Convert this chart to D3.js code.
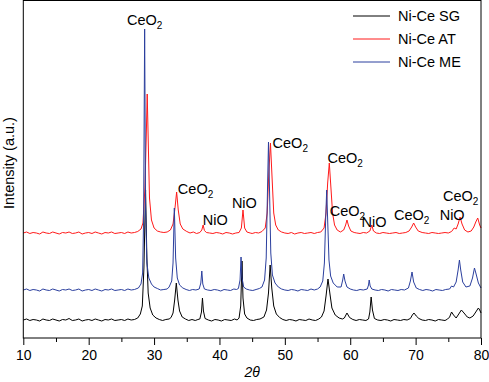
<!DOCTYPE html>
<html>
<head>
<meta charset="utf-8">
<script src="https://cdn.jsdelivr.net/npm/d3@7"></script>
<style>
  body { margin: 0; background: #fff; }
  svg { display: block; }
</style>
</head>
<body>
<div id="graph"></div>
<script>
const w = 489;
const h = 382;
const plotLeft = 23.3;
const plotRight = 481;
const plotTop = 0.5;
const plotBottom = 338;

// x ticks
const majorTicks = [10, 20, 30, 40, 50, 60, 70, 80];
const minorTicks = [15, 25, 35, 45, 55, 65, 75];

// series: [2theta, intensity (a.u.)]
const seriesNames = ['Ni-Ce SG', 'Ni-Ce AT', 'Ni-Ce ME'];
const seriesColors = ['#000000', '#ff1a1a', '#2b3f9e'];

const sgData = [
  [10,18],[10.5,19],[11,17.5],[11.5,18.5],[12,18],[12.5,17],[13,19],[13.5,18],[14,17.5],[14.5,19],
  [15,18],[15.5,17],[16,18.5],[16.5,18],[17,19.5],[17.5,17.5],[18,18],[18.5,19],[19,17],[19.5,18],
  [20,18.5],[20.5,17.5],[21,19],[21.5,18],[22,17],[22.5,18.5],[23,18],[23.5,19],[24,17.5],[24.5,18],
  [25,18.5],[25.5,17.5],[26,19],[26.5,18],[27,18.5],[27.5,20],[27.9,24],[28.2,32],[28.45,70],[28.7,148],
  [28.9,80],[29.1,45],[29.4,30],[29.8,23],[30.3,20],[30.8,18.5],[31.3,17.5],[31.8,18.5],[32.3,19],[32.6,20.5],
  [32.9,25],[33.15,38],[33.4,55],[33.65,38],[33.9,27],[34.3,21],[34.8,19],[35.3,17.5],[35.8,18.5],[36.3,17.5],
  [36.7,18.5],[37.0,19],[37.25,26],[37.4,40],[37.55,27],[37.8,19.5],[38.3,18],[38.8,17],[39.3,18.5],[39.8,18],
  [40.3,17],[40.8,18.5],[41.3,18],[41.8,17.5],[42.3,19],[42.7,18],[43.0,20],[43.25,32],[43.45,77],[43.6,40],
  [43.85,24],[44.2,20],[44.7,18],[45.2,17.5],[45.7,18.5],[46.2,19],[46.8,21],[47.2,28],[47.5,45],[47.75,73],
  [48.0,50],[48.3,32],[48.7,24],[49.2,20.5],[49.7,18.5],[50.2,17.5],[50.7,18.5],[51.2,18],[51.7,17],[52.2,18.5],
  [52.7,18],[53.2,17.5],[53.7,19],[54.2,18],[54.7,17.5],[55.2,19],[55.6,21],[56.0,27],[56.3,42],[56.6,59],
  [56.9,44],[57.2,30],[57.7,23],[58.3,20],[58.8,19],[59.1,20],[59.5,25],[59.9,20.5],[60.4,18.5],[60.9,17.5],
  [61.4,18.5],[61.9,18],[62.4,17.5],[62.8,19],[63.0,26],[63.2,41],[63.4,28],[63.7,19.5],[64.2,18],[64.7,17.5],
  [65.2,18.5],[65.7,18],[66.2,17],[66.7,18.5],[67.2,18],[67.7,17.5],[68.2,18.5],[68.7,18],[69.2,19.5],[69.5,23],
  [69.75,25],[70.1,22],[70.5,19.5],[71,18],[71.5,17.5],[72,18.5],[72.5,18],[73,17],[73.5,18.5],[74,18],
  [74.5,17.5],[74.9,19],[75.2,21],[75.5,26],[75.8,23],[76.2,20],[76.6,24],[77.0,28],[77.4,25],[77.9,21],
  [78.3,20],[78.8,22],[79.2,26],[79.6,30],[79.8,28],[80,25]
];

const atData = [
  [10,105],[10.5,106],[11,104.5],[11.5,105.5],[12,105],[12.5,104],[13,106],[13.5,105],[14,104.5],[14.5,106],
  [15,105],[15.5,104],[16,105.5],[16.5,105],[17,106],[17.5,104.5],[18,105],[18.5,106],[19,104],[19.5,105],
  [20,105.5],[20.5,104.5],[21,106],[21.5,105],[22,104],[22.5,105.5],[23,105],[23.5,106],[24,104.5],[24.5,105],
  [25,105.5],[25.5,104.5],[26,106],[26.5,105],[27,105.5],[27.5,106.5],[28,109],[28.3,115],[28.6,150],[28.8,200],
  [28.95,244],[29.1,200],[29.3,140],[29.6,118],[30,110],[30.5,107],[31,106],[31.5,105.5],[32,106],[32.5,108],
  [32.9,114],[33.2,130],[33.45,146],[33.7,128],[34,114],[34.4,109],[35,106.5],[35.5,105],[36,106],[36.5,104.5],
  [37,105.5],[37.3,108],[37.5,113],[37.7,107.5],[38,105.5],[38.5,105],[39,104.5],[39.5,105.5],[40,105],[40.5,104],
  [41,105.5],[41.5,105],[42,104],[42.5,105],[43,105.5],[43.35,110],[43.6,128],[43.85,110],[44.2,106],[44.7,105],
  [45,104.5],[45.5,105.5],[46,105],[46.5,106.5],[47,110],[47.3,125],[47.55,165],[47.8,195],[48.05,160],[48.3,125],
  [48.6,113],[49,108],[49.5,106],[50,105],[50.5,104.5],[51,105.5],[51.5,104],[52,105],[52.5,105.5],[53,104.5],
  [53.5,105],[54,105.5],[54.5,104.5],[55,105.5],[55.5,106],[56,110],[56.3,125],[56.55,155],[56.8,175],[57.05,150],
  [57.3,125],[57.6,113],[58,108],[58.5,106],[59,108],[59.3,113],[59.5,118],[59.75,112],[60.1,107],[60.6,105.5],
  [61,105],[61.5,104.5],[62,105.5],[62.5,105],[63,107],[63.3,113],[63.55,107],[64,105],[64.5,104.5],[65,105.5],
  [65.5,105],[66,104.5],[66.5,105],[67,105.5],[67.5,104.5],[68,105],[68.5,105.5],[69,107],[69.4,111],[69.7,115],
  [70,111],[70.4,107],[71,105.5],[71.5,105],[72,104.5],[72.5,105.5],[73,105],[73.5,104.5],[74,105],[74.5,105.5],
  [75,105],[75.5,106.5],[75.9,110],[76.2,109],[76.5,114],[76.8,121],[77.1,114],[77.5,108],[78,106],[78.5,107],
  [78.9,111],[79.2,116],[79.5,120],[79.8,113],[80,110]
];

const meData = [
  [10,48],[10.5,49],[11,47.5],[11.5,48.5],[12,48],[12.5,47],[13,49],[13.5,48],[14,47.5],[14.5,49],
  [15,48],[15.5,47],[16,48.5],[16.5,48],[17,49],[17.5,47.5],[18,48],[18.5,49],[19,47],[19.5,48],
  [20,48.5],[20.5,47.5],[21,49],[21.5,48],[22,47],[22.5,48.5],[23,48],[23.5,49],[24,47.5],[24.5,48],
  [25,48.5],[25.5,47.5],[26,49],[26.5,48],[27,48.5],[27.6,50],[28,54],[28.25,65],[28.4,120],[28.56,309],
  [28.7,130],[28.9,75],[29.2,60],[29.6,54],[30,51],[30.5,49.5],[31,48],[31.5,48.5],[32,49],[32.3,51],
  [32.7,57],[32.9,75],[33.1,130],[33.3,80],[33.55,60],[33.9,53],[34.4,50],[34.9,48.5],[35.4,47.5],[35.9,48.5],
  [36.4,48],[36.9,49],[37.15,55],[37.3,67],[37.45,54],[37.7,49],[38.2,48],[38.7,47.5],[39.2,48.5],[39.7,48],
  [40.2,47],[40.7,48.5],[41.2,48],[41.7,47.5],[42.2,49],[42.6,48.5],[42.9,49.5],[43.15,58],[43.3,81],[43.45,60],
  [43.7,51],[44.1,49],[44.6,48],[45.1,47.5],[45.6,48.5],[46.1,49.5],[46.5,51],[46.9,58],[47.15,80],[47.35,150],
  [47.5,196],[47.65,150],[47.85,85],[48.1,63],[48.5,55],[49,51],[49.5,49],[50,48],[50.5,47.5],[51,48.5],
  [51.5,48],[52,47],[52.5,48.5],[53,48],[53.5,47.5],[54,49],[54.5,48],[55,49],[55.4,51],[55.8,57],
  [56.05,75],[56.25,120],[56.4,148],[56.55,118],[56.75,78],[57,62],[57.4,55],[58,51],[58.6,51],[58.85,58],
  [59.0,64],[59.2,57],[59.5,51],[60,49],[60.5,48],[61,47.5],[61.5,48.5],[62,48],[62.6,49],[62.8,53],
  [62.9,58],[63.05,52],[63.3,49],[63.8,48],[64.3,47.5],[64.8,48.5],[65.3,48],[65.8,47],[66.3,48.5],[66.8,48],
  [67.3,47.5],[67.8,48.5],[68.3,48],[68.9,50],[69.2,57],[69.45,66],[69.7,56],[70.1,50],[70.6,48.5],[71.1,47.5],
  [71.6,48.5],[72.1,48],[72.6,47],[73.1,48.5],[73.6,48],[74.1,47.5],[74.6,48.5],[75.2,49],[75.5,52],[75.8,51],
  [76.2,56],[76.5,68],[76.7,78],[76.9,68],[77.2,56],[77.7,51],[78.3,52],[78.7,60],[79.0,70],[79.25,64],
  [79.6,55],[80,50]
];

// peak labels: [2theta, intensity, phase]
const peakLabels = [
  [25.85, 313, 'CeO2'],
  [33.64, 144, 'CeO2'],
  [37.46, 113, 'NiO'],
  [41.9, 130, 'NiO'],
  [48.12, 190, 'CeO2'],
  [56.52, 175, 'CeO2'],
  [56.87, 122, 'CeO2'],
  [61.72, 111, 'NiO'],
  [66.70, 118, 'CeO2'],
  [73.68, 118, 'NiO'],
  [74.19, 137, 'CeO2']
];

const xScale = d3.scaleLinear()
                 .domain([10, 80])
                 .range([plotLeft, plotRight]);

const yScale = d3.scaleLinear()
                 .domain([0, plotBottom])
                 .range([plotBottom, 0]);

const svg = d3.select('#graph')
              .append('svg')
              .attr('width', w)
              .attr('height', h)
              .style('font-family', '"Liberation Sans", Arial, sans-serif');

const line = d3.line()
               .x((d) => xScale(d[0]))
               .y((d) => yScale(d[1]));

// draw in back-to-front order: SG, AT, ME
[[sgData, 0], [atData, 1], [meData, 2]].forEach(function (s) {
  svg.append('path')
     .datum(s[0])
     .attr('fill', 'none')
     .attr('stroke', seriesColors[s[1]])
     .attr('stroke-width', 1)
     .attr('stroke-linejoin', 'round')
     .attr('d', line);
});

// frame
svg.append('rect')
   .attr('x', plotLeft)
   .attr('y', plotTop)
   .attr('width', plotRight - plotLeft)
   .attr('height', plotBottom - plotTop)
   .attr('fill', 'none')
   .attr('stroke', '#000')
   .attr('stroke-width', 1);

// axis
const xAxis = svg.append('g')
   .attr('transform', 'translate(0,' + plotBottom + ')')
   .call(d3.axisBottom(xScale).tickValues(majorTicks).tickSize(7).tickFormat(d3.format('d')));
xAxis.select('.domain').remove();
xAxis.selectAll('text')
     .attr('dy', null)
     .attr('y', 22)
     .style('font-family', '"Liberation Sans", Arial, sans-serif')
     .style('font-size', '14px')
     .attr('fill', '#000');

svg.append('g')
   .attr('transform', 'translate(0,' + plotBottom + ')')
   .call(d3.axisBottom(xScale).tickValues(minorTicks).tickSize(4).tickFormat(''))
   .select('.domain').remove();

svg.append('text')
   .attr('x', xScale(45))
   .attr('y', 377)
   .attr('text-anchor', 'middle')
   .style('font-size', '14px')
   .style('font-style', 'italic')
   .text('2θ');

svg.append('text')
   .attr('text-anchor', 'middle')
   .attr('transform', 'translate(14,163)rotate(-90)')
   .style('font-size', '14.5px')
   .text('Intensity (a.u.)');

// peak labels with subscript
peakLabels.forEach(function (p) {
  const t = svg.append('text')
     .attr('x', xScale(p[0]))
     .attr('y', yScale(p[1]))
     .style('font-size', '14.5px');
  if (p[2] === 'CeO2') {
    t.append('tspan').text('CeO');
    t.append('tspan').attr('dy', 4).style('font-size', '10px').text('2');
  } else {
    t.text(p[2]);
  }
});

// legend
const legendY = [16, 39, 62];
seriesNames.forEach(function (name, i) {
  svg.append('line')
     .attr('x1', 353)
     .attr('x2', 390)
     .attr('y1', legendY[i])
     .attr('y2', legendY[i])
     .attr('stroke', seriesColors[i])
     .attr('stroke-width', 1);
  svg.append('text')
     .attr('x', 398)
     .attr('y', legendY[i])
     .attr('dy', '0.35em')
     .style('font-size', '14.5px')
     .text(name);
});
</script>
</body>
</html>
